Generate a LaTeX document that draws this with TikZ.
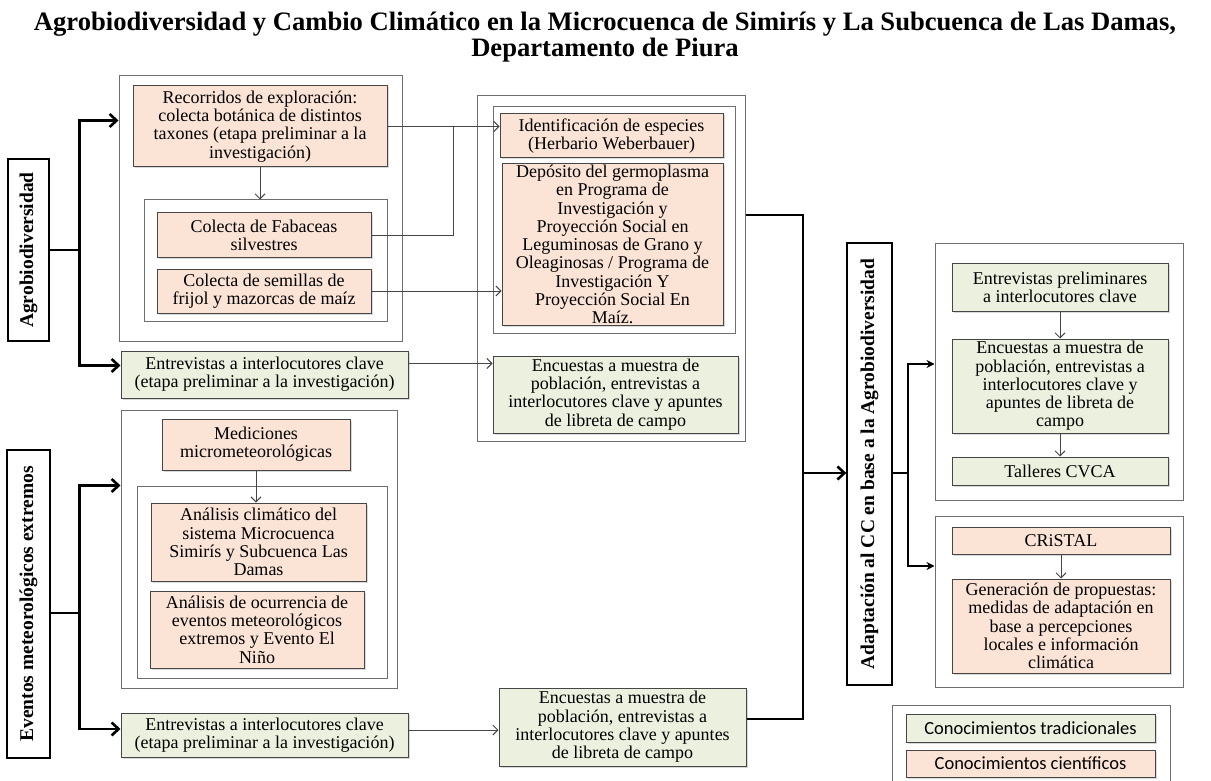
\documentclass[tikz,border=0pt]{standalone}
\usepackage{graphicx}
\usepackage{fontspec}
\setmainfont{Liberation Serif}
\newfontfamily\legfont{Carlito}
\usetikzlibrary{arrows.meta,shadows}

\definecolor{sciFill}{RGB}{251,228,214}
\definecolor{tradFill}{RGB}{235,241,222}
\definecolor{boxLine}{RGB}{70,70,70}
\definecolor{frameLine}{RGB}{110,110,110}

\tikzset{
  wh/.style n args={2}{minimum width=#1,minimum height=#2},
  box/.style={draw=boxLine,line width=1pt,align=center,inner sep=0pt,
    font=\fontsize{18}{18.3}\selectfont,
    drop shadow={shadow xshift=1.5pt,shadow yshift=-1.5pt,opacity=.3}},
  sci/.style={box,fill=sciFill},
  trad/.style={box,fill=tradFill},
  frame/.style={draw=frameLine,line width=1pt,inner sep=0pt},
  head/.style={draw=black,line width=1.3pt,inner sep=0pt,
    font=\fontsize{19.5}{22}\selectfont\bfseries},
  link/.style={draw=boxLine,line width=1pt,-{Straight Barb[length=5pt,width=10pt]}},
  bus/.style={line width=2.6pt},
  busarrow/.style={bus,-{Straight Barb[length=7pt,width=13pt]}},
  rbus/.style={line width=2.2pt},
  rbusarrow/.style={rbus,-{Stealth[length=8pt,width=8pt]}}
}

\begin{document}
\begin{tikzpicture}[x=1pt,y=-1pt]
\useasboundingbox (0,0) rectangle (1211,781);

\node[font=\fontsize{26.6}{23.5}\selectfont\bfseries,align=center] (title) at (605,37)
  {Agrobiodiversidad y Cambio Climático en la Microcuenca de Simirís y La Subcuenca de Las Damas,\\Departamento de Piura};

% agrobiodiversidad
\node[head,wh={41}{182}] (agro) at (28.5,250) {\rotatebox{90}{Agrobiodiversidad}};
\node[frame,wh={283}{265}] (out1) at (260.5,208.5) {};
\node[frame,wh={243}{121}] (in1) at (265.5,260.5) {};
\node[sci,wh={254}{81}] (recorr) at (260,126.5) {Recorridos de exploración:\\colecta botánica de distintos\\taxones (etapa preliminar a la\\investigación)};
\node[sci,wh={214}{44}] (fab) at (264,235) {Colecta de Fabaceas\\silvestres};
\node[sci,wh={214}{44}] (sem) at (264,291) {Colecta de semillas de\\frijol y mazorcas de maíz};
\node[trad,wh={287}{47}] (ent1) at (264.5,374.5) {Entrevistas a interlocutores clave\\(etapa preliminar a la investigación)};

\node[frame,wh={268}{345}] (out2) at (611,268.5) {};
\node[frame,wh={242}{226}] (in2) at (614,220) {};
\node[sci,wh={223}{44}] (ident) at (611.5,136) {Identificación de especies\\(Herbario Weberbauer)};
\node[sci,wh={221}{161}] (depos) at (612.5,244.5) {Depósito del germoplasma\\en Programa de\\Investigación y\\Proyección Social en\\Leguminosas de Grano y\\Oleaginosas / Programa de\\Investigación Y\\Proyección Social En\\Maíz.};
\node[trad,wh={245}{77}] (enc1) at (615.5,394.5) {Encuestas a muestra de\\población, entrevistas a\\interlocutores clave y apuntes\\de libreta de campo};

% eventos
\node[head,wh={43}{308}] (event) at (28.5,604) {\rotatebox{90}{Eventos meteorológicos extremos}};
\node[frame,wh={276}{278}] (out3) at (259,549) {};
\node[frame,wh={250}{192}] (in3) at (262,582) {};
\node[sci,wh={188}{51}] (medic) at (256,444.5) {Mediciones\\micrometeorológicas};
\node[sci,wh={215}{78}] (anclim) at (258.5,542) {Análisis climático del\\sistema Microcuenca\\Simirís y Subcuenca Las\\Damas};
\node[sci,wh={214}{77}] (anocu) at (257,629.5) {Análisis de ocurrencia de\\eventos meteorológicos\\extremos y Evento El\\Niño};
\node[trad,wh={287}{44}] (ent2) at (264.5,735) {Entrevistas a interlocutores clave\\(etapa preliminar a la investigación)};
\node[trad,wh={247}{78}] (enc2) at (622.5,727) {Encuestas a muestra de\\población, entrevistas a\\interlocutores clave y apuntes\\de libreta de campo};

% adaptacion
\node[head,wh={45}{442}] (adapt) at (869.5,464) {\rotatebox{90}{Adaptación al CC en base a la Agrobiodiversidad}};
\node[frame,wh={248}{257}] (out4) at (1059,371.5) {};
\node[trad,wh={216}{48}] (entpre) at (1060,287) {Entrevistas preliminares\\a interlocutores clave};
\node[trad,wh={216}{94}] (enc3) at (1060,386) {Encuestas a muestra de\\población, entrevistas a\\interlocutores clave y\\apuntes de libreta de\\campo};
\node[trad,wh={216}{28}] (talleres) at (1060,471) {Talleres CVCA};
\node[frame,wh={248}{171}] (out5) at (1059,601.5) {};
\node[sci,wh={218}{27}] (cristal) at (1061,540.5) {CRiSTAL};
\node[sci,wh={218}{94}] (gener) at (1061,626) {Generación de propuestas:\\medidas de adaptación en\\base a percepciones\\locales e información\\climática};

% leyenda
\node[frame,wh={278}{86}] (legend) at (1031,748) {};
\node[trad,wh={249}{28},font=\legfont\fontsize{18.5}{19}\selectfont] (legT) at (1030.5,728) {Conocimientos tradicionales};
\node[sci,wh={249}{27},font=\legfont\fontsize{18.5}{19}\selectfont] (legS) at (1030.5,763.5) {Conocimientos científicos};

% thin links
\coordinate (jn) at (453,126.5);
\draw[link] (recorr.south) -- (recorr.south |- in1.north);
\draw[link] (recorr.east) -- (recorr.east -| ident.west);
\draw[draw=boxLine,line width=1pt] (fab.east) -| (jn);
\draw[link] (sem.east) -- (sem.east -| depos.west);
\draw[link] ([yshift=11]ent1.east) -- ([yshift=11]ent1.east -| enc1.west);
\draw[link] (medic.south) -- (medic.south |- anclim.north);
\draw[link] ([yshift=5]ent2.east) -- ([yshift=5]ent2.east -| enc2.west);
\foreach \a/\b in {entpre/enc3,enc3/talleres,cristal/gener}
  \draw[link] (\a) -- (\b);

% thick buses
\draw[bus] (agro.east) -- ++(30,0) coordinate (ja);
\draw[busarrow] (ja) |- ([yshift=-45]out1.north west);
\draw[busarrow] (ja) |- ([yshift=9]ent1.west);
\draw[bus] ([yshift=-9]event.east) -- ++(29,0) coordinate (je);
\draw[busarrow] (je) |- ([yshift=-76]out3.north west);
\draw[busarrow] (je) |- ([yshift=6]ent2.west);

\coordinate (jm) at (803,473);
\draw[bus] ([yshift=53.5]out2.east) -| (jm) |- ([yshift=8]enc2.east);
\draw[busarrow] (jm) -- (jm -| adapt.west);

\draw[rbus] ([yshift=-9]adapt.east) -- ++(15,0) coordinate (jr);
\draw[rbusarrow] (jr) |- ([yshift=7.5]out4.west);
\draw[rbusarrow] (jr) |- ([yshift=35.5]out5.west);
\end{tikzpicture}
\end{document}
